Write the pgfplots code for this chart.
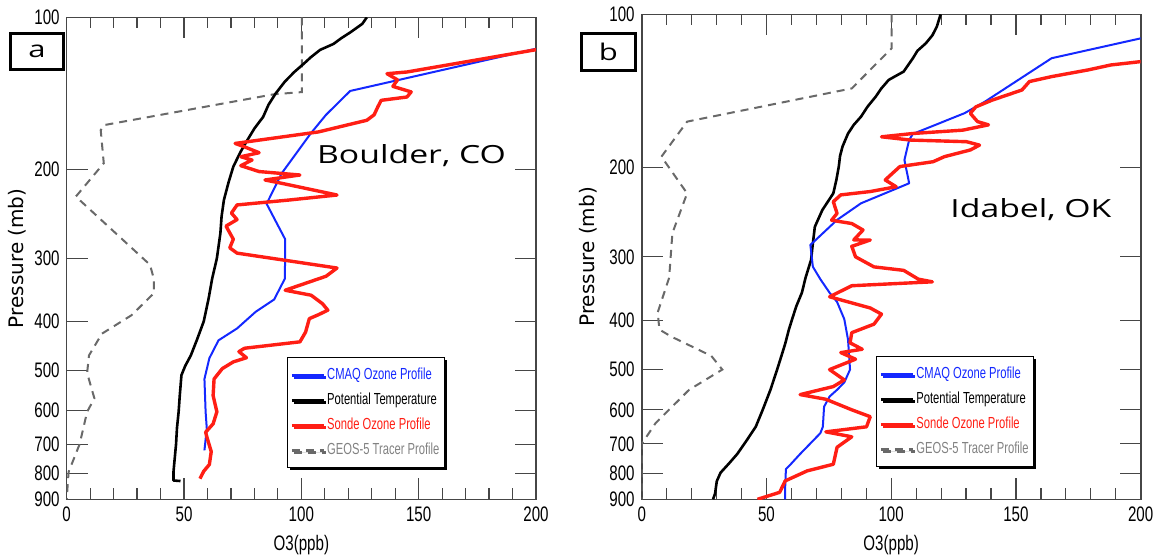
\documentclass[border=0pt]{standalone}
\usepackage{fontspec}
\usepackage{pgfplots}
\pgfplotsset{compat=1.18}
\usetikzlibrary{shadows}
\setmainfont{Liberation Sans}
\newfontfamily\tickfont[FakeStretch=0.72]{Liberation Sans}
\newfontfamily\legfont[FakeStretch=0.7]{Liberation Sans}
\newfontfamily\labfont{DejaVu Sans}
\newfontfamily\anfont[FakeStretch=1.35]{Open Sans}
\definecolor{cblue}{RGB}{20,40,255}
\definecolor{cred}{RGB}{255,30,20}
\definecolor{cgray}{RGB}{105,105,105}
\definecolor{lgray}{RGB}{130,130,130}
\definecolor{agray}{RGB}{70,70,70}

\pgfplotstableread{
x y
127.9 100
126 103
121 107
117 110
113.7 112.9
108 116
104 120
101 123.6
97 128.3
93 134
89 141.6
86 149
83.7 157.5
80 166
77 175
74 185
71 197.6
69 212
67 229.9
66 248
65.5 267.5
64 300
62 328.9
60.5 360
58.4 400
55.5 435
52.9 467
50.5 490
48.9 511
48.2 560
47.7 604
47 650
46.6 700
46 750
45.5 795
45.5 826
48.5 828
}\aBlack
\pgfplotstableread{
x y
200 115.4
120.8 139.9
110.5 156
104 169.8
91.6 203.7
85.2 234
93.1 275
93 329
88.4 362
80.5 383
72.6 413
64.7 436
60.8 473
58.7 520
59.2 604
59.7 652
58.7 720
}\aBlue
\pgfplotstableread{
x y
200 115.9
145 128.3
136.5 129.3
141 133
139 137
146.8 140.5
145 143.8
134 146
132.6 150.4
131 156
127.9 159.9
107.3 168.6
71.8 177.7
75.8 180.5
82 185.4
74.2 188.8
79 191.7
74.2 196.7
82 202
99.4 205.2
84.5 209.9
91.6 213.1
115.2 224.8
94.7 230
72.6 235.2
70.2 244.1
72.6 251.4
67.9 259
71 275
69.5 286
72.6 293
91.6 302
115.2 313.6
110.5 325.6
93.1 347
104.2 355
109 369
111.3 380
107.3 388
103.4 395
101.8 420
99.4 439
75.8 452
73.4 459
76.6 472
71 481
66.3 496
62.8 520
62.4 561
64 604
62.4 638
59.2 663
60 684
61.6 724
60.8 768
58.4 792
56.8 819
}\aRed
\pgfplotstableread{
x y
100.2 100
100.2 140.6
88.4 142
15.8 163.5
14.5 167.3
15.8 194.5
3.9 226.4
35.5 309
37.1 329
37.1 352
27.6 389
15 423
9.5 467
8.7 506
11.8 568
8.7 604
5.5 700
0.8 795
0 900
}\aGray
\pgfplotstableread{
x y
119.8 100
118.3 105.7
116.5 110
113.9 114
110.5 118
108.7 122
105 129.6
99 134.6
96 140
93.8 145.2
90.5 152
87.9 159
85 165
82.7 171.6
80.5 182
79.5 190
79 199.3
78 212
76.8 225
72.4 242.7
69.4 261.8
68.5 285
67.9 304
65.7 329.5
64.2 353
62 375
60.5 395
59 417
57.5 445
56 470
54 505
51.6 548
48.5 600
45.7 648
42 690
38.3 733
35 765
31.6 798
30.1 829
29.4 877
28.6 900
}\bBlack
\pgfplotstableread{
x y
200 111.5
164.3 122
137.6 148.5
129.4 156.5
108.7 171.9
107.2 176.6
105.3 193.5
107.2 215
87.9 235.4
78.3 253.8
67.6 284.3
68.6 313.8
71.6 332
75.3 353
78.3 368
81.2 398
82.7 436.7
83.5 500
81.2 530
78.3 548
75.3 565
73.1 591.6
72.6 648
71.6 667
63.5 733
59.7 768
57.8 785
57.5 854
57.5 900
}\bBlue
\pgfplotstableread{
x y
200 123.9
188 125.8
179.1 128.6
164.3 132.6
155.4 135.6
152.4 140.9
140.5 147.5
133.9 152.1
131.7 156.6
134.6 162.6
139 165
128.7 169
108.7 171.6
96.1 174.2
107.9 176.8
130.2 178.1
135.4 180.9
131.7 184.9
121.3 190.6
116.8 195
103.5 199.3
100.5 205.5
97.6 211.8
102 218.4
91.6 223.2
79.8 226.6
76.8 233.7
78.3 246.4
76.1 254.2
84.2 258
88.7 265.7
85 277.9
91.6 278
84.2 286.1
85.7 300
93.1 314
105 319
110.9 332
116.5 336
84.2 342
75.3 359.6
91.6 378.3
96.1 389
93.1 407
84.2 423
83.5 443
88.4 456
79.8 463
85.7 477
75.3 500
81.2 524
76.8 540
63.5 560
73.8 572
84.2 600
91.6 619
90.1 648
73.8 663
84.2 678
78.3 711
76.8 768
66.4 791
57.5 828
55.3 872
46.4 900
}\bRed
\pgfplotstableread{
x y
100.2 100
100.2 116.6
84.2 139.9
18.2 162.6
7.9 190.6
18.2 225
12.3 269.5
11 330
6.4 386
7.1 417
11.6 430
27.9 470
32.3 500
19 548
5.6 637
0 700
0 900
}\bGray

\tikzset{
  blk/.style={black, line width=1.3pt, line join=round},
  blu/.style={cblue, line width=1pt, line join=round},
  rd/.style={cred, line width=1.7pt, line join=round},
  gr/.style={cgray, line width=1pt, dash pattern=on 4pt off 3pt},
}

\begin{document}
\begin{tikzpicture}
\path[use as bounding box] (0pt,0pt) rectangle (579pt,-279pt);

\begin{axis}[at={(33.35pt,-8.65pt)}, anchor=north west,
    scale only axis, width=234.65pt, height=241pt,
    xmin=0, xmax=200, ymode=log, ymin=100, ymax=900, y dir=reverse,
    xtick={0,50,100,150,200}, xticklabels={0,50,100,150,200},
    minor x tick num=4,
    ytick={100,200,300,400,500,600,700,800,900},
    yticklabels={100,200,300,400,500,600,700,800,900},
    yminorticks=false,
    tick align=inside,
    major tick length=10.5pt, minor tick length=5.5pt,
    tick style={agray, line width=0.6pt},
    axis line style={agray, line width=0.8pt},
    ticklabel style={font=\tickfont\fontsize{10.5}{11}\selectfont, black},
    xlabel={O3(ppb)}, ylabel={Pressure (mb)},
    xlabel style={font=\tickfont\fontsize{10.5}{11}\selectfont, at={(axis description cs:0.5,-0.095)}, anchor=center},
    ylabel style={font=\labfont\fontsize{10}{12}\selectfont, at={(axis description cs:-0.105,0.5)}, anchor=center},
    legend cell align=left,
    legend image code/.code={\draw[#1] (0pt,0pt) -- (16pt,0pt);},
    legend style={at={(0.469,0.295)}, anchor=north west,
      draw=black, line width=0.6pt, fill=white,
      drop shadow={shadow xshift=1.2pt, shadow yshift=-1.2pt, fill=black, opacity=1},
      font=\legfont\fontsize{8}{9}\selectfont,
      inner xsep=1.5pt, inner ysep=4pt, row sep=3pt,
      nodes={inner sep=1pt, text height=6pt, text depth=1.5pt}},
  ]
\addlegendimage{blu, line width=1.4pt}
\addlegendentry{\textcolor{cblue}{CMAQ Ozone Profile}}
\addlegendimage{blk, line width=1.4pt}
\addlegendentry{Potential Temperature}
\addlegendimage{rd, line width=1.4pt}
\addlegendentry{\textcolor{cred}{Sonde Ozone Profile}}
\addlegendimage{gr, line width=1.4pt}
\addlegendentry{\textcolor{lgray}{GEOS-5 Tracer Profile}}
\addplot[gr, forget plot] table[x=x,y=y] {\aGray};
\addplot[blk, forget plot] table[x=x,y=y] {\aBlack};
\addplot[blu, forget plot] table[x=x,y=y] {\aBlue};
\addplot[rd, forget plot] table[x=x,y=y] {\aRed};
\end{axis}

\begin{axis}[at={(320.85pt,-7.15pt)}, anchor=north west,
    scale only axis, width=249.5pt, height=242.5pt,
    xmin=0, xmax=200, ymode=log, ymin=100, ymax=900, y dir=reverse,
    xtick={0,50,100,150,200}, xticklabels={0,50,100,150,200},
    minor x tick num=4,
    ytick={100,200,300,400,500,600,700,800,900},
    yticklabels={100,200,300,400,500,600,700,800,900},
    yminorticks=false,
    tick align=inside,
    major tick length=10.5pt, minor tick length=5.5pt,
    tick style={agray, line width=0.6pt},
    axis line style={agray, line width=0.8pt},
    ticklabel style={font=\tickfont\fontsize{10.5}{11}\selectfont, black},
    xlabel={O3(ppb)}, ylabel={Pressure (mb)},
    xlabel style={font=\tickfont\fontsize{10.5}{11}\selectfont, at={(axis description cs:0.5,-0.095)}, anchor=center},
    ylabel style={font=\labfont\fontsize{10}{12}\selectfont, at={(axis description cs:-0.1075,0.5)}, anchor=center},
    legend cell align=left,
    legend image code/.code={\draw[#1] (0pt,0pt) -- (16pt,0pt);},
    legend style={at={(0.4695,0.2955)}, anchor=north west,
      draw=black, line width=0.6pt, fill=white,
      drop shadow={shadow xshift=1.2pt, shadow yshift=-1.2pt, fill=black, opacity=1},
      font=\legfont\fontsize{8}{9}\selectfont,
      inner xsep=1.5pt, inner ysep=4pt, row sep=3pt,
      nodes={inner sep=1pt, text height=6pt, text depth=1.5pt}},
  ]
\addlegendimage{blu, line width=1.4pt}
\addlegendentry{\textcolor{cblue}{CMAQ Ozone Profile}}
\addlegendimage{blk, line width=1.4pt}
\addlegendentry{Potential Temperature}
\addlegendimage{rd, line width=1.4pt}
\addlegendentry{\textcolor{cred}{Sonde Ozone Profile}}
\addlegendimage{gr, line width=1.4pt}
\addlegendentry{\textcolor{lgray}{GEOS-5 Tracer Profile}}
\addplot[gr, forget plot] table[x=x,y=y] {\bGray};
\addplot[blk, forget plot] table[x=x,y=y] {\bBlack};
\addplot[blu, forget plot] table[x=x,y=y] {\bBlue};
\addplot[rd, forget plot] table[x=x,y=y] {\bRed};
\end{axis}

\node[draw, line width=1.5pt, minimum width=26.5pt, minimum height=18pt, inner sep=0pt,
  font=\anfont\fontsize{11.5}{13}\selectfont] at (18.5pt,-25.75pt) {a};
\node[draw, line width=1.5pt, minimum width=27pt, minimum height=18.5pt, inner sep=0pt,
  font=\anfont\fontsize{11.5}{13}\selectfont] at (304.25pt,-26pt) {b};
\node[anchor=base west, inner sep=0pt, font=\anfont\fontsize{12.5}{14}\selectfont]
  at (158.35pt,-81.5pt) {Boulder, CO};
\node[anchor=base west, inner sep=0pt, font=\anfont\fontsize{12.5}{14}\selectfont]
  at (475pt,-108.5pt) {Idabel, OK};
\end{tikzpicture}
\end{document}
